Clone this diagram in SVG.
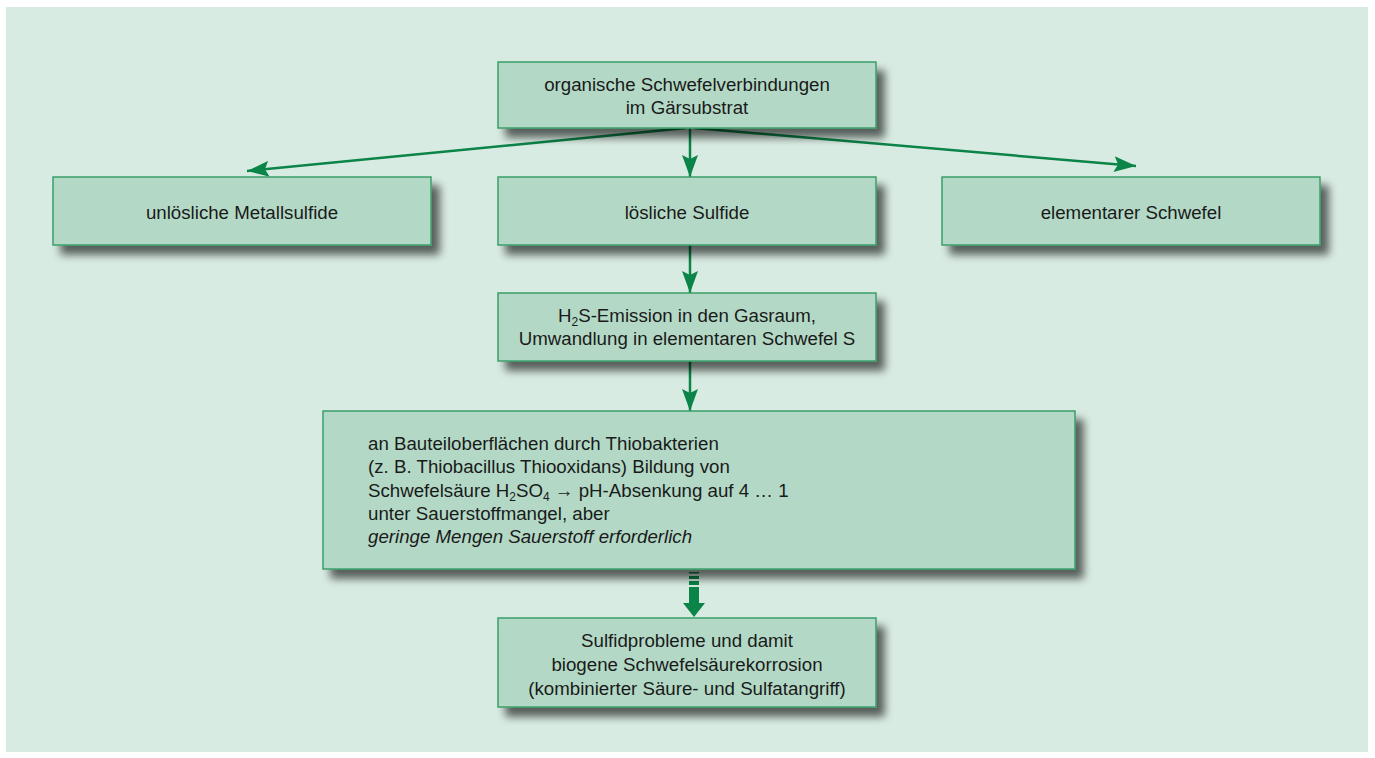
<svg xmlns="http://www.w3.org/2000/svg" width="1375" height="758" viewBox="0 0 1375 758">
<defs>
<filter id="sh" x="-10%" y="-20%" width="130%" height="160%">
<feGaussianBlur in="SourceAlpha" stdDeviation="4.5"/>
<feOffset dx="8" dy="9" result="b"/>
<feComponentTransfer><feFuncA type="linear" slope="0.6"/></feComponentTransfer>
<feMerge><feMergeNode/><feMergeNode in="SourceGraphic"/></feMerge>
</filter>
<marker id="ah" viewBox="0 0 22 16" refX="22" refY="8" markerWidth="22" markerHeight="16" markerUnits="userSpaceOnUse" orient="auto">
<path d="M0,0 L22,8 L0,16 L4,8 Z" fill="#0a8447"/>
</marker>
</defs>
<style>
.box{fill:#b3d9c6;stroke:#3a9e6a;stroke-width:1.5}
.t{font-family:"Liberation Sans",Arial,sans-serif;font-size:18.7px;fill:#1a1a1a}
.c{text-anchor:middle}
.ln{stroke:#0a8447;stroke-width:2.5;fill:none}
.sub{font-size:12px}
</style>
<rect x="0" y="0" width="1375" height="758" fill="#ffffff"/>
<rect x="6" y="7" width="1362" height="745" fill="#d8ebe2"/>

<g id="connectors">
<line class="ln" x1="686" y1="128" x2="247" y2="171" marker-end="url(#ah)"/>
<line class="ln" x1="690" y1="128" x2="690" y2="177" marker-end="url(#ah)"/>
<line class="ln" x1="694" y1="128" x2="1136" y2="166" marker-end="url(#ah)"/>
<line class="ln" x1="690" y1="245" x2="690" y2="293" marker-end="url(#ah)"/>
<line class="ln" x1="690" y1="361" x2="690" y2="411" marker-end="url(#ah)"/>
<g fill="#0a8447">
<rect x="689" y="572" width="10" height="1.5"/>
<rect x="689" y="576" width="10" height="3"/>
<rect x="689" y="581" width="10" height="4"/>
<rect x="689" y="587" width="10" height="17"/>
<path d="M683,603 L705,603 L694,617 Z"/>
</g>
</g>

<g id="n1">
<rect class="box" x="498" y="62" width="378" height="66" filter="url(#sh)"/>
<text class="t c" x="687" y="91">organische Schwefelverbindungen</text>
<text class="t c" x="687" y="114">im Gärsubstrat</text>
</g>
<g id="n2">
<rect class="box" x="53" y="177" width="378" height="68" filter="url(#sh)"/>
<text class="t c" x="242" y="219">unlösliche Metallsulfide</text>
</g>
<g id="n3">
<rect class="box" x="498" y="177" width="378" height="68" filter="url(#sh)"/>
<text class="t c" x="687" y="219">lösliche Sulfide</text>
</g>
<g id="n4">
<rect class="box" x="942" y="177" width="378" height="68" filter="url(#sh)"/>
<text class="t c" x="1131" y="219">elementarer Schwefel</text>
</g>
<g id="n5">
<rect class="box" x="498" y="293" width="378" height="68" filter="url(#sh)"/>
<text class="t c" x="687" y="322">H<tspan class="sub" dy="4">2</tspan><tspan dy="-4">S-Emission in den Gasraum,</tspan></text>
<text class="t c" x="687" y="345">Umwandlung in elementaren Schwefel S</text>
</g>
<g id="n6">
<rect class="box" x="323" y="411" width="752" height="158" filter="url(#sh)"/>
<text class="t" x="368" y="450">an Bauteiloberflächen durch Thiobakterien</text>
<text class="t" x="368" y="473">(z. B. Thiobacillus Thiooxidans) Bildung von</text>
<text class="t" x="368" y="497">Schwefelsäure H<tspan class="sub" dy="4">2</tspan><tspan dy="-4">SO</tspan><tspan class="sub" dy="4">4</tspan><tspan dy="-4"> → pH-Absenkung auf 4 … 1</tspan></text>
<text class="t" x="368" y="520">unter Sauerstoffmangel, aber</text>
<text class="t" x="368" y="543" font-style="italic">geringe Mengen Sauerstoff erforderlich</text>
</g>
<g id="n7">
<rect class="box" x="498" y="618" width="378" height="89" filter="url(#sh)"/>
<text class="t c" x="687" y="647">Sulfidprobleme und damit</text>
<text class="t c" x="687" y="671">biogene Schwefelsäurekorrosion</text>
<text class="t c" x="687" y="695">(kombinierter Säure- und Sulfatangriff)</text>
</g>
</svg>
